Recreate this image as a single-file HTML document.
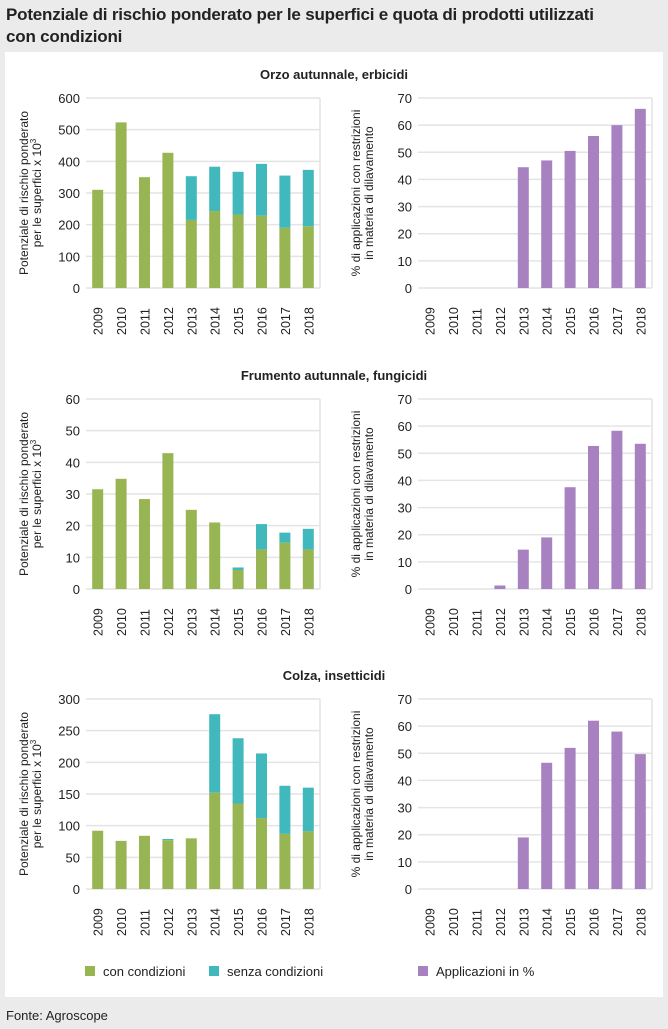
<!DOCTYPE html>
<html><head><meta charset="utf-8"><style>
body{margin:0;width:668px;height:1029px;background:#ebebeb;font-family:"Liberation Sans",sans-serif;overflow:hidden;position:relative}
#title{position:absolute;left:6px;top:4px;font-size:17px;font-weight:bold;line-height:22px;color:#222;font-family:"Liberation Sans Narrow","Liberation Sans",sans-serif;letter-spacing:-0.2px}
#panel{position:absolute;left:5px;top:52px;width:658px;height:945px;background:#fff}
#src{position:absolute;left:6px;top:1008px;font-size:13px;color:#222}
</style></head><body>
<div id="title">Potenziale di rischio ponderato per le superfici e quota di prodotti utilizzati<br>con condizioni</div>
<div id="panel"></div>
<svg id="svg" width="668" height="1029" style="position:absolute;left:0;top:0"></svg>
<div id="src">Fonte: Agroscope</div>
<script>
const years=["2009","2010","2011","2012","2013","2014","2015","2016","2017","2018"];
const sectionTitles=["Orzo autunnale, erbicidi","Frumento autunnale, fungicidi","Colza, insetticidi"];
const orzoCon=[310,523,350,427,215,243,232,228,190,195];
const orzoTot=[310,523,350,427,353,383,367,392,355,373];
const orzoPct=[0,0,0,0,44.5,47,50.5,56,60,66];
const frumCon=[31.5,34.8,28.4,42.9,25,21,6,12.5,14.6,12.5];
const frumTot=[31.5,34.8,28.4,42.9,25,21,6.8,20.5,17.8,19];
const frumPct=[0,0,0,1.3,14.5,19,37.5,52.7,58.3,53.5];
const colzaCon=[92,76,84,77,80,152,135,112,87,91];
const colzaTot=[92,76,84,79,80,276,238,214,163,160];
const colzaPct=[0,0,0,0,19,46.5,52,62,58,49.7];
const leftMax=[600,60,300], leftStep=[100,10,50];
const rows=[[orzoCon,orzoTot,orzoPct],[frumCon,frumTot,frumPct],[colzaCon,colzaTot,colzaPct]];
const G="#97b552",T="#41b8bb",P="#a882c0";
const svg=document.getElementById('svg');
function el(t,a,p){const e=document.createElementNS("http://www.w3.org/2000/svg",t);for(const k in a)e.setAttribute(k,a[k]);(p||svg).appendChild(e);return e;}
function txt(s,a,p){const e=el('text',a,p);e.textContent=s;return e;}
function chart(x0,x1,yTop,yBot,max,step,name,draw,ylab1,ylab2){
  const g=el('g',{});
  
  
  const ys=v=>yBot-(v/max)*(yBot-yTop);
  const bw=(x1-x0)/10;
  const xs=i=>x0+bw*(i+0.5);
  for(let v=0;v<=max+1e-9;v+=step){
    const y=ys(v);
    const l=el('line',{x1:x0,x2:x1,y1:y,y2:y,stroke:'#e4e4e4','stroke-width':1.5},g);
    
    const t=txt(String(v),{x:x0-6,y:y+5,'text-anchor':'end','font-size':13,fill:'#222'},g);
    
  }
  el('line',{x1:x1,x2:x1,y1:yTop,y2:yBot,stroke:'#e4e4e4','stroke-width':1.5},g);
  draw(g,xs,ys,bw);
  years.forEach((yr,i)=>{
    const t=txt(yr,{transform:`translate(${xs(i)+5},${yBot+47}) rotate(-90)`,'font-size':12.5,fill:'#222'},g);
    
  });
  const cy=(yTop+yBot)/2, lx=x0-58;
  const t1=txt(ylab1,{transform:`translate(${lx},${cy}) rotate(-90)`,'text-anchor':'middle','font-size':12,fill:'#222'},g);
  
  const t2=el('text',{transform:`translate(${lx+13},${cy}) rotate(-90)`,'text-anchor':'middle','font-size':12,fill:'#222'},g);
  
  t2.innerHTML=ylab2;
}
const tops=[98,399,699];
rows.forEach((r,k)=>{
  const yTop=tops[k],yBot=yTop+190;
  const st=txt(sectionTitles[k],{x:334,y:yTop-19,'text-anchor':'middle','font-size':13,'font-weight':'bold',fill:'#222'});
  
  const [con,tot,pct]=r;
  chart(86,320,yTop,yBot,leftMax[k],leftStep[k],'risk-chart',(g,xs,ys,bw)=>{
    con.forEach((v,i)=>{
      if(tot[i]>v){const b=el('rect',{x:xs(i)-5.5,y:ys(tot[i]),width:11,height:ys(v)-ys(tot[i]),fill:T},g);
        }
      const b=el('rect',{x:xs(i)-5.5,y:ys(v),width:11,height:ys(0)-ys(v),fill:G},g);
      
    });
  },'Potenziale di rischio ponderato','per le superfici x 10<tspan dy="-5" font-size="8">3</tspan>');
  chart(418,652,yTop,yBot,70,10,'percent-chart',(g,xs,ys,bw)=>{
    pct.forEach((v,i)=>{
      if(v<=0)return;
      const b=el('rect',{x:xs(i)-5.5,y:ys(v),width:11,height:ys(0)-ys(v),fill:P},g);
      
    });
  },'% di applicazioni con restrizioni','in materia di dilavamento');
});
const leg=[[G,'con condizioni',85],[T,'senza condizioni',209],[P,'Applicazioni in %',418]];
leg.forEach(([c,l,x])=>{
  const g=el('g',{});
  
  
  el('rect',{x:x,y:966,width:10,height:10,fill:c},g);
  txt(l,{x:x+18,y:976,'font-size':13,fill:'#222'},g);
});
</script>
</body></html>
